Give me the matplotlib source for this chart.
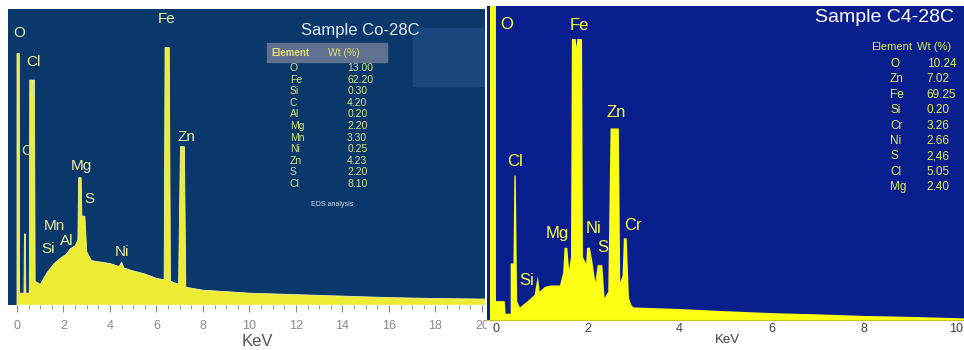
import numpy as np
import matplotlib.pyplot as plt
from matplotlib.patches import Rectangle
from matplotlib.ticker import MultipleLocator

plt.rcParams['font.family'] = ['Liberation Sans', 'DejaVu Sans']

# spectrum outlines (energy in keV, counts in % of panel height)
left_kev = [0.0, 0.0, 0.1, 0.11, 0.3, 0.32, 0.36, 0.38, 0.53, 0.55, 0.63, 0.65, 0.67, 0.75,
            0.78, 1.0, 1.3, 1.6, 1.9, 2.1, 2.3, 2.5, 2.62, 2.65, 2.76, 2.79, 2.92, 3.0,
            3.2, 3.6, 4.0, 4.4, 4.5, 4.6, 5.0, 5.5, 6.0, 6.33, 6.37, 6.55, 6.6, 6.95,
            7.03, 7.2, 7.26, 8.0, 9.0, 10.0, 12.0, 14.0, 16.0, 18.0, 20.13, 20.13]
left_counts = [0, 85, 85, 4, 4, 24, 24, 4, 4, 76, 76, 70, 76, 76,
               8, 7, 11, 14, 16, 17, 19, 20, 22, 43, 43, 30, 30, 18,
               15, 14.5, 14, 13, 14.5, 12.5, 11.5, 10.5, 9, 8.5, 87, 87, 8, 7,
               53.5, 53.5, 6, 5, 4.5, 4, 3.5, 3, 2.5, 2.2, 2, 0]

right_kev = [-0.12, -0.12, 0.01, 0.01, 0.2, 0.22, 0.33, 0.33, 0.39, 0.41, 0.44, 0.47,
             0.53, 0.7, 0.85, 0.92, 0.96, 1.07, 1.2, 1.4, 1.47, 1.5, 1.56, 1.6, 1.64,
             1.66, 1.74, 1.76, 1.78, 1.88, 1.9, 1.97, 1.99, 2.05, 2.1, 2.17, 2.22, 2.32,
             2.37, 2.45, 2.5, 2.68, 2.71, 2.76, 2.79, 2.85, 2.9, 2.95, 3.0, 4.0, 5.0,
             6.0, 7.0, 8.0, 9.0, 10.0, 10.18, 10.18]
right_counts = [0, 110, 110, 6, 6, 2, 2, 18, 18, 46, 46, 6,
                4, 6, 8, 14, 9, 10.5, 11, 11, 15, 23, 23, 16, 20,
                89.5, 89.5, 87, 89.5, 89.5, 20, 18, 23, 23, 19, 12, 17.5, 17.5,
                7, 9, 61, 61, 12, 14, 26, 26, 7, 4.8, 4, 3.5, 2.8,
                2.2, 1.8, 1.3, 1.0, 0.6, 0.5, 0]

left_peaks = ["O", "Cl", "C", "Mg", "S", "Mn", "Si", "Al", "Ni", "Fe", "Zn"]
right_peaks = ["O", "Fe", "Zn", "Cl", "Mg", "Ni", "S", "Cr", "Si"]

left_elements = ["O", "Fe", "Si", "C", "Al", "Mg", "Mn", "Ni", "Zn", "S", "Cl"]
left_wt = ["13.00", "62.20", "0.30", "4.20", "0.20", "2.20", "3.30", "0.25", "4.23", "2.20", "8.10"]
right_elements = ["O", "Zn", "Fe", "Si", "Cr", "Ni", "S", "Cl", "Mg"]
right_wt = ["10.24", "7.02", "69.25", "0.20", "3.26", "2.66", "2,46", "5.05", "2.40"]

left_ticks = np.arange(0, 21, 2)
right_ticks = np.arange(0, 11, 2)

fig = plt.figure(figsize=(9.64, 3.5), dpi=100)
fig.patch.set_facecolor("white")

# ---------------- left panel ----------------
ax = fig.add_axes([8 / 964, 45 / 350, 477 / 964, 296 / 350], zorder=0)
ax.set_facecolor("#0b386a")
ax.fill(left_kev, left_counts, color="#ecec34", lw=0.6, ec="#f4f49a")
ax.set_xlim(-0.387, 20.13)
ax.set_ylim(0, 100)
for s in ax.spines.values():
    s.set_visible(False)
ax.set_yticks([])
ax.set_xticks(left_ticks)
ax.xaxis.set_minor_locator(MultipleLocator(0.5))
ax.tick_params(axis="x", which="both", colors="#8a8a8a", labelsize=9, pad=6)
ax.tick_params(axis="x", which="major", length=5)
ax.tick_params(axis="x", which="minor", length=3)

left_label_xy = {"O": (0.09, 92), "Cl": (0.69, 82), "C": (0.4, 52), "Mg": (2.75, 47),
                 "S": (3.1, 35.7), "Mn": (1.6, 26.6), "Si": (1.33, 19), "Al": (2.15, 21.5),
                 "Ni": (4.5, 17.8), "Fe": (6.45, 96.6), "Zn": (7.3, 56.6)}
for name in left_peaks:
    x, y = left_label_xy[name]
    col = "#d8d890" if name == "C" else "#eeeea0"
    ax.text(x, y, name, color=col, fontsize=11, ha="center", va="center", zorder=3)

ax.text(0.738, 0.929, "Sample Co-28C", transform=ax.transAxes, color="#dfe8f2",
        fontsize=12, ha="center", va="center")
ax.add_patch(Rectangle((0.849, 0.74), 0.149, 0.196, transform=ax.transAxes,
                       color="#17477c", zorder=0.5))
ax.add_patch(Rectangle((0.543, 0.821), 0.252, 0.064, transform=ax.transAxes,
                       color="#5f7090", zorder=0.5))
ax.text(0.553, 0.853, "Element", transform=ax.transAxes, color="#e0e070",
        fontsize=7, fontweight="bold", va="center")
ax.text(0.671, 0.853, "Wt (%)", transform=ax.transAxes, color="#e0e070",
        fontsize=7.5, va="center")
for i, (el, wt) in enumerate(zip(left_elements, left_wt)):
    yy = 0.801 - i * 0.0392
    ax.text(0.591, yy, el, transform=ax.transAxes, color="#d6e07a", fontsize=7.5, va="center")
    ax.text(0.711, yy, wt, transform=ax.transAxes, color="#d6e07a", fontsize=7.5, va="center")
ax.text(0.679, 0.338, "EDS analysis", transform=ax.transAxes, color="#d0dcec",
        fontsize=5, ha="center", va="center")

fig.text(257 / 964, 1 - 341 / 350, "KeV", color="#555555", fontsize=12,
         ha="center", va="center")

# white strip so the right panel sits over the left one's last tick label
fig.add_artist(Rectangle((487 / 964, 0), 1, 30 / 350, transform=fig.transFigure,
                         color="white", zorder=1))

# ---------------- right panel ----------------
ax2 = fig.add_axes([487 / 964, 30 / 350, 477 / 964, 314 / 350], zorder=2)
ax2.set_facecolor("#0a1f8e")
ax2.fill(right_kev, right_counts, color="#ffff14", lw=0)
ax2.set_xlim(-0.185, 10.18)
ax2.set_ylim(0, 100)
for s in ax2.spines.values():
    s.set_visible(False)
ax2.spines["bottom"].set_visible(True)
ax2.spines["bottom"].set_color("#c8c820")
ax2.set_yticks([])
ax2.set_xticks(right_ticks)
ax2.tick_params(axis="x", length=0, pad=2, labelsize=9, colors="#404040")

right_label_xy = {"O": (0.25, 94), "Fe": (1.82, 93.7), "Zn": (2.62, 66), "Cl": (0.42, 50.5),
                  "Mg": (1.34, 27.6), "Ni": (2.14, 29), "S": (2.33, 23), "Cr": (2.99, 30),
                  "Si": (0.68, 12.7)}
for name in right_peaks:
    x, y = right_label_xy[name]
    ax2.text(x, y, name, color="#ffff3c", fontsize=12, ha="center", va="center")

ax2.text(0.834, 0.962, "Sample C4-28C", transform=ax2.transAxes, color="white",
         fontsize=14, ha="center", va="center")
ax2.text(0.805, 0.869, "Element", transform=ax2.transAxes, color="#e4ec48",
         fontsize=8, va="center")
ax2.text(0.901, 0.869, "Wt (%)", transform=ax2.transAxes, color="#e4ec48",
         fontsize=8, va="center")
for i, (el, wt) in enumerate(zip(right_elements, right_wt)):
    yy = 0.815 - i * 0.049
    ax2.text(0.845, yy, el, transform=ax2.transAxes, color="#e4ec48", fontsize=8.5,
             va="center")
    ax2.text(0.922, yy, wt, transform=ax2.transAxes, color="#e4ec48", fontsize=8.5,
             va="center")

fig.text(727 / 964, 1 - 340 / 350, "KeV", color="#404040", fontsize=9.5,
         ha="center", va="center")

fig.savefig("out.png", dpi=100)
